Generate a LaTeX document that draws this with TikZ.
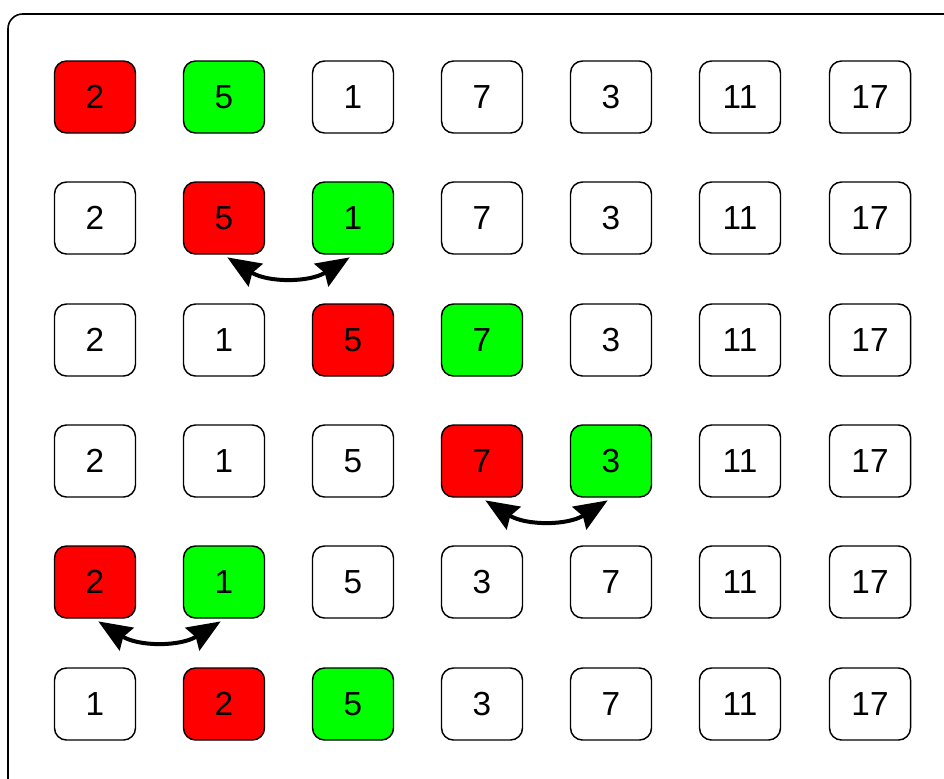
\documentclass[tikz,border=0pt]{standalone}
\usepackage{fontspec}
\setmainfont{Liberation Sans}
\usetikzlibrary{arrows.meta}
\definecolor{cred}{RGB}{255,0,0}
\definecolor{cgreen}{RGB}{0,255,0}
\begin{document}
\begin{tikzpicture}[x=0.75pt,y=-0.75pt,
  cell/.style={draw=black,line width=1.1pt,rounded corners=9pt,minimum width=60.75pt,minimum height=54pt,inner sep=0pt,font=\fontsize{25}{29}\selectfont},
  redc/.style={cell,fill=cred},
  greenc/.style={cell,fill=cgreen},
  swaptip/.tip={Stealth[length=25pt,width=20pt,inset=3pt]},
  swap/.style={swaptip-swaptip,line width=3pt}]
\useasboundingbox (0,0) rectangle (944,778);
\clip (0,0) rectangle (944,778);
\draw[line width=1.2pt,rounded corners=11pt] (8,14) rectangle (980,800);
% row 1
\node[redc]   (r1c1) at (95,97) {2};
\node[greenc] (r1c2) at (224,97) {5};
\node[cell]   (r1c3) at (353,97) {1};
\node[cell]   (r1c4) at (482,97) {7};
\node[cell]   (r1c5) at (611,97) {3};
\node[cell]   (r1c6) at (740,97) {11};
\node[cell]   (r1c7) at (870,97) {17};
% row 2
\node[cell]   (r2c1) at (95,218) {2};
\node[redc]   (r2c2) at (224,218) {5};
\node[greenc] (r2c3) at (353,218) {1};
\node[cell]   (r2c4) at (482,218) {7};
\node[cell]   (r2c5) at (611,218) {3};
\node[cell]   (r2c6) at (740,218) {11};
\node[cell]   (r2c7) at (870,218) {17};
% row 3
\node[cell]   (r3c1) at (95,340) {2};
\node[cell]   (r3c2) at (224,340) {1};
\node[redc]   (r3c3) at (353,340) {5};
\node[greenc] (r3c4) at (482,340) {7};
\node[cell]   (r3c5) at (611,340) {3};
\node[cell]   (r3c6) at (740,340) {11};
\node[cell]   (r3c7) at (870,340) {17};
% row 4
\node[cell]   (r4c1) at (95,461) {2};
\node[cell]   (r4c2) at (224,461) {1};
\node[cell]   (r4c3) at (353,461) {5};
\node[redc]   (r4c4) at (482,461) {7};
\node[greenc] (r4c5) at (611,461) {3};
\node[cell]   (r4c6) at (740,461) {11};
\node[cell]   (r4c7) at (870,461) {17};
% row 5
\node[redc]   (r5c1) at (95,582) {2};
\node[greenc] (r5c2) at (224,582) {1};
\node[cell]   (r5c3) at (353,582) {5};
\node[cell]   (r5c4) at (482,582) {3};
\node[cell]   (r5c5) at (611,582) {7};
\node[cell]   (r5c6) at (740,582) {11};
\node[cell]   (r5c7) at (870,582) {17};
% row 6
\node[cell]   (r6c1) at (95,704) {1};
\node[redc]   (r6c2) at (224,704) {2};
\node[greenc] (r6c3) at (353,704) {5};
\node[cell]   (r6c4) at (482,704) {3};
\node[cell]   (r6c5) at (611,704) {7};
\node[cell]   (r6c6) at (740,704) {11};
\node[cell]   (r6c7) at (870,704) {17};
% swaps
\draw[swap] ([xshift=2.5pt,yshift=-2pt]r2c2.south) to[bend right=32] ([xshift=-2.5pt,yshift=-2pt]r2c3.south);
\draw[swap] ([xshift=2.5pt,yshift=-2pt]r4c4.south) to[bend right=32] ([xshift=-2.5pt,yshift=-2pt]r4c5.south);
\draw[swap] ([xshift=2.5pt,yshift=-2pt]r5c1.south) to[bend right=32] ([xshift=-2.5pt,yshift=-2pt]r5c2.south);
\end{tikzpicture}
\end{document}
